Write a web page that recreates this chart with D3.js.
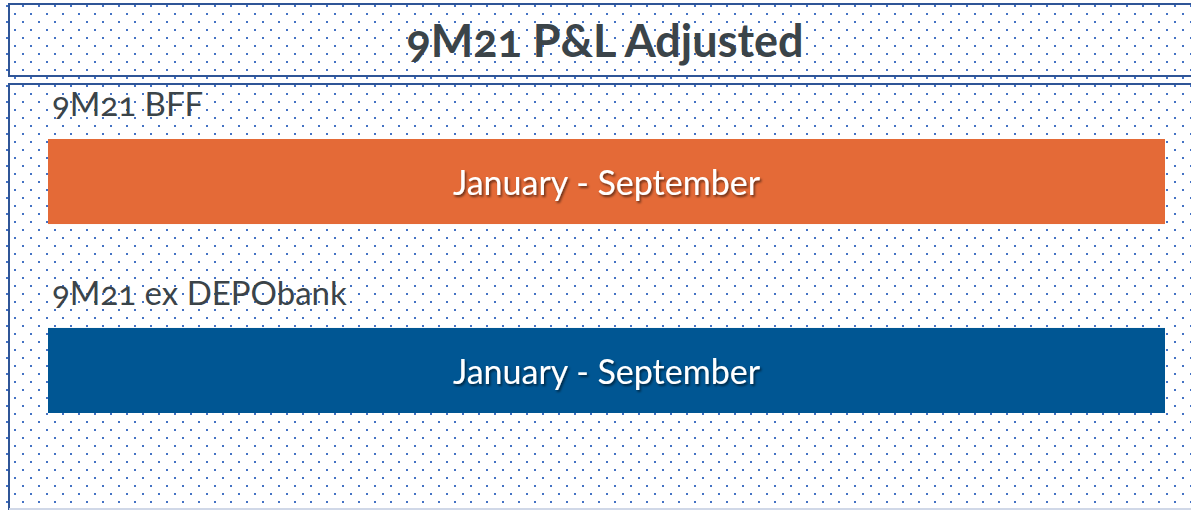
<!DOCTYPE html>
<html>
<head>
<meta charset="utf-8">
<script src="https://cdn.jsdelivr.net/npm/d3@7"></script>
<style>
  body { margin: 0; background: #fff; }
  text { font-family: Lato, "Open Sans", sans-serif; font-variant-numeric: oldstyle-nums; }
</style>
</head>
<body>
<svg id="chart" width="1191" height="510"></svg>
<script>
var title = "9M21 P&L Adjusted";
var rows = ["9M21 BFF", "9M21 ex DEPObank"];
var barText = ["January - September", "January - September"];
var months = [9, 9];
var colors = ["#E46A37", "#005693"];

var svg = d3.select("#chart");
var W = 1191, H = 510;

var defs = svg.append("defs");
var pat = defs.append("pattern")
  .attr("id", "dots")
  .attr("patternUnits", "userSpaceOnUse")
  .attr("x", 0).attr("y", 0)
  .attr("width", 16).attr("height", 16);
pat.append("rect").attr("x", 6).attr("y", 5).attr("width", 2).attr("height", 2).attr("fill", "#4472C4");
pat.append("rect").attr("x", 14).attr("y", 13).attr("width", 2).attr("height", 2).attr("fill", "#4472C4");

var shadow = defs.append("filter").attr("id", "shadow")
  .attr("x", "-10%").attr("y", "-30%").attr("width", "120%").attr("height", "160%");
shadow.append("feDropShadow")
  .attr("dx", 1.5).attr("dy", 2).attr("stdDeviation", 1.2)
  .attr("flood-color", "#000").attr("flood-opacity", 0.55);

// background dots
svg.append("rect").attr("width", W).attr("height", H).attr("fill", "url(#dots)");

// frames
svg.append("rect")
  .attr("x", 9).attr("y", 4).attr("width", 1200).attr("height", 72)
  .attr("fill", "none").attr("stroke", "#2F5597").attr("stroke-width", 2);
svg.append("rect")
  .attr("x", 9).attr("y", 84).attr("width", 1200).attr("height", 426)
  .attr("fill", "none").attr("stroke", "#2F5597").attr("stroke-width", 2);
svg.append("line")
  .attr("x1", 9).attr("x2", W).attr("y1", 509).attr("y2", 509)
  .attr("stroke", "#D0D8E8").attr("stroke-width", 2);

svg.append("text")
  .attr("x", 605).attr("y", 57)
  .attr("text-anchor", "middle")
  .attr("font-size", 45).attr("font-weight", "bold")
  .attr("fill", "#3B4449")
  .text(title);

var x = d3.scaleLinear().domain([0, 9]).range([48, 1165]);
var y = d3.scaleBand().domain(rows).range([139, 413]).paddingInner(0.55).paddingOuter(0);

var g = svg.selectAll("g.row").data(rows).enter().append("g").attr("class", "row");

g.append("text")
  .attr("x", 52)
  .attr("y", function(d) { return y(d) - 23; })
  .attr("font-size", 33)
  .attr("fill", "#3B4449")
  .text(function(d) { return d; });

g.append("rect")
  .attr("x", x(0))
  .attr("y", function(d) { return y(d); })
  .attr("width", function(d, i) { return x(months[i]) - x(0); })
  .attr("height", y.bandwidth())
  .attr("fill", function(d, i) { return colors[i]; });

g.append("text")
  .attr("x", function(d, i) { return (x(0) + x(months[i])) / 2; })
  .attr("y", function(d) { return y(d) + 56; })
  .attr("text-anchor", "middle")
  .attr("font-size", 34)
  .attr("fill", "#fff")
  .attr("filter", "url(#shadow)")
  .text(function(d, i) { return barText[i]; });
</script>
</body>
</html>
